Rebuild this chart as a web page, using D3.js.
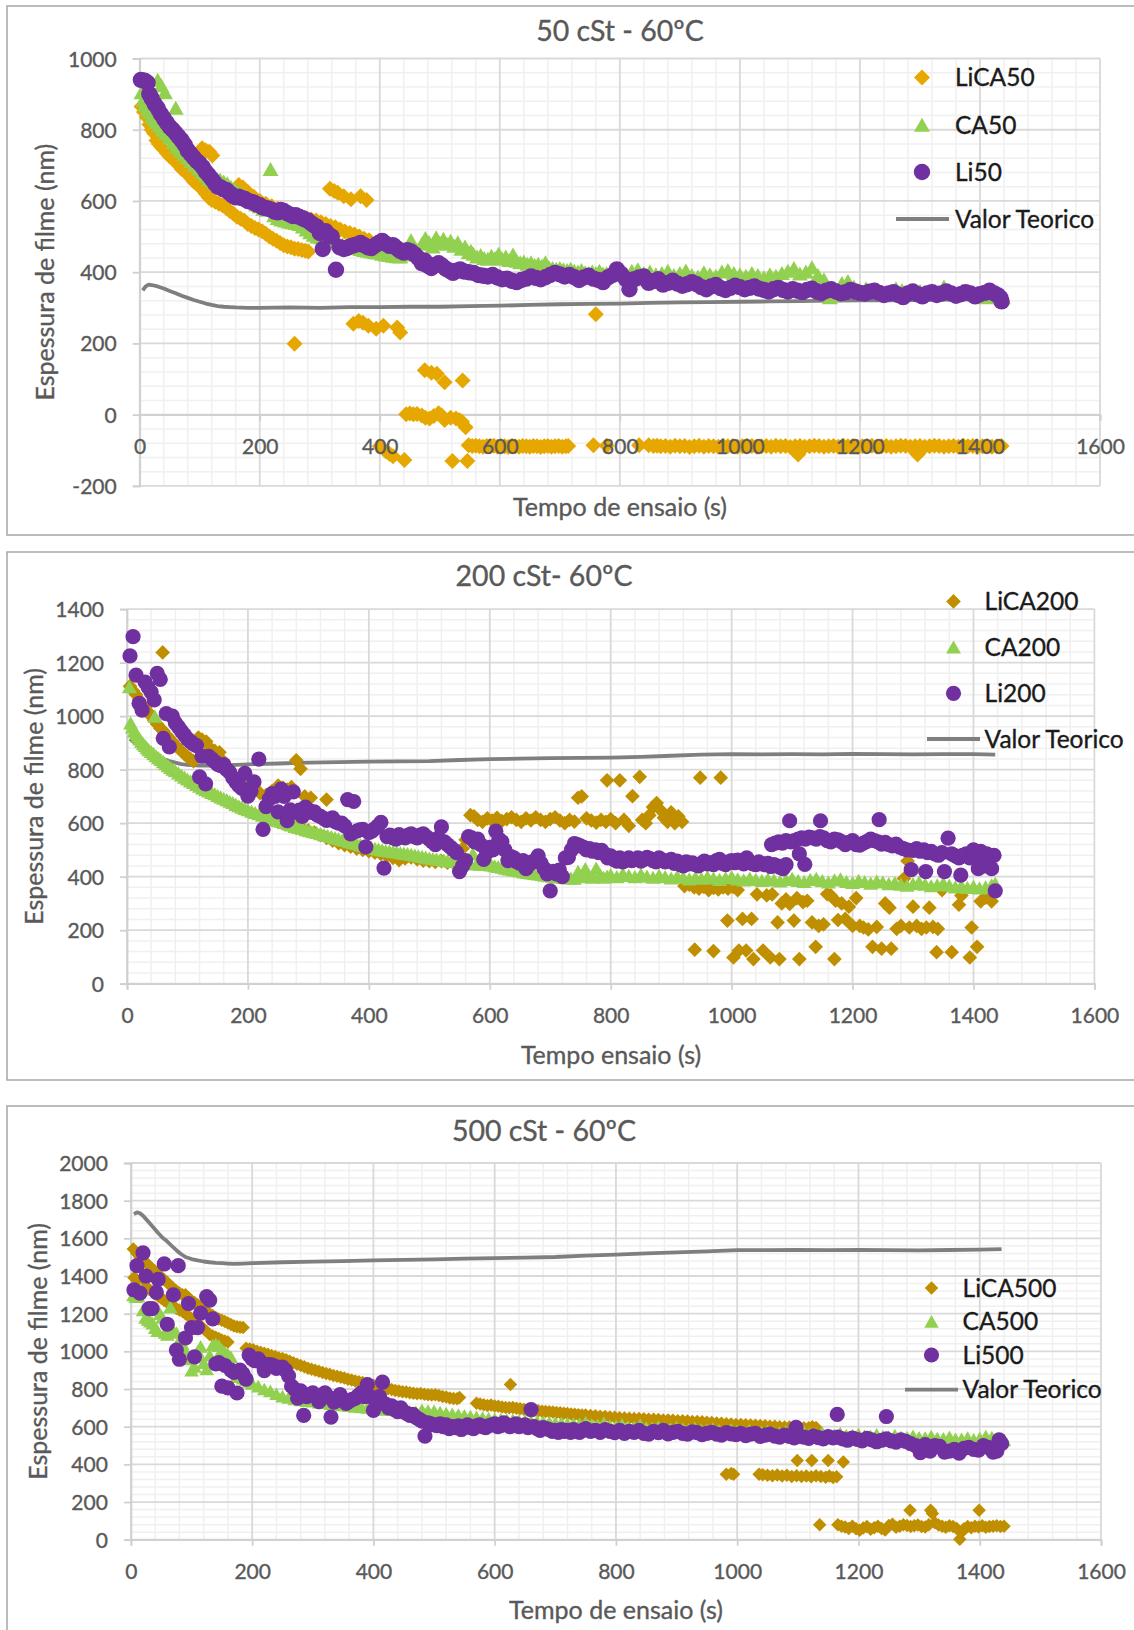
<!DOCTYPE html>
<html>
<head>
<meta charset="utf-8">
<script src="https://cdn.jsdelivr.net/npm/d3@7"></script>
<style>
  body { margin: 0; background: #fff; }
  svg { display: block; }
  text { font-family: Lato, "Open Sans", sans-serif; }
</style>
</head>
<body>
<svg id="chart" width="1134" height="1630"></svg>
<script>
// ---------- axis ticks ----------
const xTicks = [0, 200, 400, 600, 800, 1000, 1200, 1400, 1600];
const yTicks50 = [-200, 0, 200, 400, 600, 800, 1000];
const yTicks200 = [0, 200, 400, 600, 800, 1000, 1200, 1400];
const yTicks500 = [0, 200, 400, 600, 800, 1000, 1200, 1400, 1600, 1800, 2000];

const titles = ["50 cSt - 60ºC", "200 cSt- 60ºC", "500 cSt - 60ºC"];
const xTitles = ["Tempo de ensaio (s)", "Tempo ensaio (s)", "Tempo de ensaio (s)"];
const yTitle = "Espessura de filme (nm)";
const names50 = ["LiCA50", "CA50", "Li50", "Valor Teorico"];
const names200 = ["LiCA200", "CA200", "Li200", "Valor Teorico"];
const names500 = ["LiCA500", "CA500", "Li500", "Valor Teorico"];

// ---------- 50 cSt: [tempo (s), espessura (nm)] ----------
const lica50 = [
  [3,865],[7,850],[12,835],[16,815],[20,800],[24,790],[28,770],[32,760],[36,752],[40,745],[45,735],[50,725],[55,718],[60,712],[65,700],[70,690],[75,684],[80,676],[85,665],[90,655],[95,648],[100,640],
  [104,748],[110,742],[116,738],[121,728],
  [105,632],[110,620],[115,610],[120,603],[126,598],[132,592],[138,588],[144,580],[150,572],[156,565],[162,556],[168,550],[174,545],[180,535],[186,530],[192,524],[198,520],[204,515],[210,508],[216,500],[222,494],[228,488],[234,482],[240,476],[246,472],[252,470],[258,466],[264,465],[270,462],[276,460],[281,458],
  [165,645],[172,638],[180,625],[190,612],[200,600],[210,592],[220,585],[230,578],[240,572],[250,566],[260,560],[270,556],[278,552],[286,548],[294,545],[302,540],[310,535],[318,530],[326,526],[334,520],[342,514],[350,510],[358,506],[366,500],[374,494],[382,490],
  [258,199],[317,634],[324,628],[330,623],[340,613],[352,605],[368,613],[378,603],
  [356,255],[365,263],[372,258],[381,250],[394,241],[406,250],[429,245],[434,231],
  [400,-89],[410,-103],[416,-110],[422,-117],[441,-127],
  [444,1],[450,3],[456,1],[462,2],[470,-2],[476,-9],[483,-11],[490,-4],[498,4],[503,-2],[508,-15],[518,-9],[527,-11],[533,-16],[537,-20],[543,-35],
  [475,125],[486,118],[495,115],[508,91],[538,96],[521,-130],[546,-130],
  [548,-86],[554,-88],[560,-87],[566,-89],[572,-90],[578,-88],[584,-89],[590,-87],[596,-90],[602,-88],[608,-89],[614,-91],[620,-88],[626,-89],[632,-90],[638,-88],[644,-89],[650,-90],[656,-88],[662,-89],[668,-91],[674,-89],[680,-88],[686,-90],[692,-89],[698,-88],[704,-90],[710,-89],[714,-88],
  [756,-86],[760,282],[778,-87],[832,-86],[848,-86],[856,-88],[862,-87],
  [868,-89],[876,-88],[884,-90],[892,-87],[900,-89],[908,-88],[916,-91],[924,-89],[932,-87],[940,-90],[948,-88],[956,-89],[964,-90],[972,-87],[980,-89],[988,-88],[996,-90],[1004,-89],[1012,-87],[1020,-88],[1028,-90],[1036,-89],[1044,-88],[1052,-90],[1060,-87],[1068,-89],[1076,-88],[1084,-91],[1092,-89],[1097,-112],[1100,-88],[1108,-90],[1116,-89],[1124,-87],[1132,-88],[1140,-90],[1148,-89],[1156,-88],[1164,-90],[1172,-87],[1180,-89],[1188,-88],[1196,-90],[1204,-89],[1212,-88],[1220,-87],[1228,-90],[1236,-89],[1244,-88],[1252,-90],[1260,-89],[1268,-87],[1276,-88],[1284,-90],[1292,-89],[1296,-112],[1300,-88],[1308,-90],[1316,-89],[1324,-87],[1332,-88],[1340,-90],[1348,-89],[1356,-88],[1364,-90],[1372,-87],[1380,-89],[1388,-88],[1396,-90],[1404,-89],[1412,-88],[1420,-90],[1428,-89],[1436,-88]
];
const ca50 = [
  [3,905],[6,885],[9,870],[13,858],[17,850],[21,838],[25,830],[30,940],[36,925],[42,905],[60,862],[28,822],[33,812],[38,800],[44,790],[50,778],[56,765],[62,752],[68,742],[74,732],[80,722],[86,712],[92,702],[98,692],[104,682],[110,672],[116,662],[122,655],[128,648],[134,660],[140,655],[146,650],[152,640],[158,632],[164,625],[170,620],[176,612],[182,605],[188,598],[194,590],[200,585],[206,578],[212,575],[218,690],[224,560],[230,552],[236,548],[242,545],[248,542],[254,540],[260,538],[266,535],[272,528],[278,520],[284,512],[290,505],[296,500],[302,498],[308,495],[314,492],[320,490],[326,486],[332,482],[338,478],[344,475],[350,472],[356,470],[362,468],[368,465],[374,462],[380,460],[386,458],[392,456],[398,455],[404,452],[410,450],[416,448],[422,446],[428,445],[434,444],
  [440,450],[446,462],[452,490],[458,468],[464,462],[470,480],[476,496],[482,485],[488,472],[494,498],[500,482],[506,494],[512,480],[518,488],[524,474],[530,484],[536,466],[542,472],[548,456],[552,460],
  [556,452],[562,444],[568,448],[574,440],[580,438],[586,446],[592,440],[598,452],[604,438],[610,444],[616,434],[622,450],[628,432],[634,428],[640,430],[646,424],[652,428],[658,420],[664,424],[670,418],[676,428],[682,414],[688,412],[694,410],[700,412],[706,408],[712,406],[718,410],[724,404],[730,402],[736,406],[742,400],[748,398],[754,402],[760,398],[766,404],[772,396],[778,398],[786,394],[794,398],[802,394],[810,396],
  [820,404],[830,408],[840,398],[850,402],[860,394],[870,398],[880,404],[890,392],[900,398],[910,405],[920,392],[930,388],[940,400],[950,394],[960,390],[970,402],[980,406],[990,398],[1000,394],[1010,390],[1020,398],[1030,392],[1040,386],[1050,394],[1060,390],[1070,398],[1080,404],[1090,412],[1100,396],[1110,402],[1120,414],[1130,392],[1140,380],[1150,330],[1160,335],[1170,370],[1180,375],[1190,360],[1200,350],[1210,355],[1220,345],[1230,350],[1240,340],[1250,345],[1260,355],[1270,350],[1280,345],[1290,340],[1300,348],[1310,342],[1320,350],[1330,345],[1340,360],[1350,345],[1360,340],[1370,348],[1380,342],[1390,338],[1400,340],[1410,330],[1420,335],[1430,332],[1438,330]
];
const li50 = [
  [2,940],[8,938],[13,932],[16,900],[20,888],[25,872],[30,860],[35,845],[40,832],[45,820],[50,808],[55,800],[60,790],[65,780],[70,770],[75,758],[80,742],[85,732],[90,722],[95,712],[100,705],[105,695],[110,682],[115,672],[120,662],[125,650],[130,640],[135,638],[140,632],[145,630],[150,622],[155,615],[160,610],[165,612],[170,608],[175,606],[180,600],[185,598],[190,596],[195,590],[200,588],[205,582],[210,580],[215,578],[220,575],[225,570],[230,568],[235,575],[240,572],[245,566],[250,562],[255,558],[260,560],[265,556],[270,552],[275,548],[280,545],[285,538],[290,532],[295,528],[300,510],[305,465],[310,515],[315,505],[320,500],[327,407],[333,470],[340,465],[345,468],[350,472],[356,475],[362,478],[368,482],[374,476],[380,470],[386,468],[392,475],[398,482],[404,488],[410,480],[416,474],[422,476],[428,468],[434,460],[440,455],[446,462],[452,458],[458,450],[464,440],[470,425],[475,432],[480,418],[486,412],[492,420],[498,425],[504,418],[510,410],[516,404],[522,398],[528,404],[534,408],[540,402],
  [548,400],[556,398],[564,392],[572,390],[580,388],[588,392],[596,385],[604,380],[612,382],[620,376],[628,372],[636,378],[644,382],[652,388],[660,384],[668,380],[676,386],[684,392],[692,398],[700,394],[708,388],[716,392],[724,386],[732,378],[740,385],[748,390],[756,382],[764,378],[772,372],[780,385],[788,392],[795,408],[802,395],[810,380],[816,352],[824,380],[832,385],[840,388],[848,370],[856,375],[864,380],[872,365],[880,370],[888,376],[896,368],[904,362],[912,366],[920,372],[928,366],[936,358],[944,352],[952,360],[960,364],[968,355],[976,350],[984,356],[992,362],[1000,358],[1008,352],[1016,356],[1024,360],[1032,354],[1040,350],[1048,346],[1056,352],[1064,356],[1072,350],[1080,346],[1088,352],[1096,348],[1104,344],[1112,350],[1120,354],[1128,346],[1136,342],[1144,348],[1152,352],[1160,346],[1168,340],[1176,344],[1184,350],[1192,346],[1200,342],[1208,340],[1216,345],[1224,348],[1232,342],[1240,336],[1248,340],[1256,344],[1264,336],[1272,330],[1280,340],[1288,346],[1296,338],[1304,332],[1312,340],[1320,344],[1328,336],[1336,340],[1344,346],[1352,340],[1360,334],[1368,338],[1376,344],[1384,340],[1392,332],[1400,338],[1408,342],[1416,348],[1424,340],[1430,335],[1434,328],[1436,318]
];
const teorico50 = [
  [5,349],[10,360],[15,365],[20,364],[30,360],[40,354],[50,347],[60,341],[70,334],[80,328],[90,322],[100,317],[110,312],[120,308],[130,305],[140,303],[150,302],[160,301],[180,300],[200,300],[250,301],[300,300],[350,302],[400,302],[450,303],[500,303],[550,305],[600,306],[650,308],[700,310],[750,311],[800,312],[850,314],[900,315],[950,316],[1000,317],[1050,318],[1100,319],[1150,320],[1200,321],[1250,321],[1300,322],[1350,323],[1400,324],[1440,325]
];

// ---------- 200 cSt ----------
const lica200 = [
  [5,1112],[10,1095],[15,1080],[20,1062],[25,1045],[30,1030],[35,1015],[40,1000],[45,985],[50,970],[55,955],[59,1238],[60,945],[65,930],[70,918],[75,905],[80,892],[85,880],[90,870],[95,858],[100,848],[105,840],[110,832],[118,920],[124,912],[131,905],[138,880],[145,870],[153,865],[160,830],[165,800],[170,785],[175,770],[180,760],[185,750],[190,742],[195,735],[200,728],[210,720],[220,712],[230,705],[240,720],[250,740],[258,732],[265,725],[272,735],[280,835],[287,803],[294,700],[304,695],[330,688],
  [230,620],[240,612],[250,605],[260,598],[270,590],[280,585],[290,578],[300,572],[310,565],[320,555],[330,545],[340,535],[350,525],[360,518],[370,512],[380,505],[390,500],[400,495],[410,490],[420,485],[430,478],[440,470],[450,462],[460,468],[470,472],[480,465],[490,460],[500,458],[510,455],[520,458],[530,452],[540,455],[550,450],[555,505],[560,538],
  [568,630],[574,625],[580,612],[588,605],[596,618],[604,610],[612,620],[620,608],[628,615],[636,622],[644,612],[652,605],[660,618],[668,610],[676,622],[684,612],[692,605],[700,615],[708,622],[716,610],[724,600],[732,612],[740,606],[746,695],[752,700],[760,618],[768,610],[776,602],[784,612],[792,605],[794,760],[800,615],[808,600],[815,760],[822,612],[830,590],[836,701],[848,773],[852,612],[858,600],[864,630],[870,660],[876,675],[882,650],[888,620],[894,605],[900,640],[906,600],[912,625],[918,605],[948,770],[982,770],
  [922,365],[930,370],[938,360],[946,355],[954,362],[962,350],[970,358],[978,352],[986,360],[994,355],[1002,362],[1010,350],
  [939,127],[970,122],[993,236],[1003,98],[1012,124],[1018,242],[1024,124],[1033,242],[1036,92],[1042,334],[1052,124],[1058,330],[1064,98],[1067,334],[1076,229],[1079,92],[1083,300],[1090,315],[1096,298],[1103,236],[1108,320],[1112,92],[1118,305],[1125,310],[1133,229],[1139,138],[1144,216],[1152,222],[1158,335],[1164,330],[1170,92],[1172,310],[1176,238],[1182,300],[1188,242],[1194,288],[1200,216],[1206,320],[1212,216],[1218,210],[1226,203],[1233,138],[1240,212],[1248,131],[1254,300],[1261,284],[1264,131],[1273,205],[1280,216],[1285,393],[1291,459],[1294,210],[1300,288],[1306,216],[1314,205],[1322,210],[1327,284],[1333,212],[1339,118],[1341,205],[1348,350],[1364,118],[1376,295],[1380,330],[1394,98],[1397,210],[1406,138],[1412,308],[1420,322],[1430,308]
];
const ca200 = [
  [4,1110],[6,975],[9,960],[12,945],[15,935],[18,925],[21,915],[24,905],[27,897],[30,890],[33,882],[36,875],[40,868],[44,860],[46,1000],[48,852],[52,845],[56,838],[60,830],[64,822],[68,815],[72,808],[76,802],[80,796],[85,788],[90,780],[95,772],[100,765],[105,758],[110,752],[115,745],[120,738],[125,732],[130,726],[135,720],[140,715],[145,710],[150,704],[155,698],[160,693],[165,688],[170,682],[175,677],[180,670],[185,665],[190,660],[195,655],[200,650],[206,645],[212,640],[218,635],[224,630],[230,626],[236,622],[242,617],[248,612],[254,607],[260,603],[266,598],[272,593],[278,588],[284,584],[290,580],[296,576],[302,572],[308,568],[314,565],[320,561],[326,557],[332,554],[338,550],[344,546],[350,542],[356,538],[362,535],[368,531],[374,527],[380,524],[386,520],[392,516],[398,512],[404,509],[410,506],[416,503],[422,500],[428,498],[434,496],[440,494],[446,492],[452,490],[458,488],[464,486],[470,484],[476,481],[482,478],[488,476],[494,473],[500,470],[506,468],[512,466],[518,464],[524,462],[530,460],[536,458],[542,457],[548,455],[554,453],[560,452],[566,450],[572,486],[578,448],[584,447],[590,446],[596,470],[602,444],[608,441],[614,438],[620,435],[626,432],[632,429],[638,426],[644,424],[650,421],[656,418],[662,416],[668,414],[674,412],[680,410],[686,408],[692,406],[698,404],[704,402],[710,400],[716,399],[722,397],[728,396],[734,395],[740,394],[746,420],[752,400],[758,430],[764,405],[770,398],[776,432],[782,410],[788,398],[794,402],[800,408],[810,400],[820,412],[830,405],[840,400],[850,410],[860,402],[870,398],[880,406],[890,400],[900,395],[910,402],[920,398],[930,392],[940,398],[950,394],[960,400],[970,395],[980,390],[990,396],[1000,400],[1010,392],[1020,388],[1030,395],[1040,390],[1050,386],[1060,392],[1070,388],[1080,384],[1090,390],[1100,394],[1110,386],[1120,382],[1130,390],[1140,394],[1150,385],[1160,380],[1170,388],[1180,392],[1190,382],[1200,378],[1210,386],[1220,382],[1230,376],[1240,384],[1250,380],[1260,374],[1270,378],[1280,372],[1290,368],[1300,374],[1310,380],[1320,372],[1330,366],[1340,370],[1350,376],[1360,368],[1370,362],[1380,366],[1390,360],[1400,364],[1410,358],[1420,362],[1430,370],[1436,375]
];
const li200 = [
  [5,1225],[10,1297],[15,1153],[20,1048],[25,1022],[30,1127],[35,1107],[40,1090],[45,1061],[50,1160],[55,1137],[60,917],[65,1009],[70,885],[75,1000],[80,975],[85,960],[90,944],[95,930],[100,915],[105,905],[110,895],[115,890],[120,773],[124,850],[130,747],[135,850],[140,840],[145,830],[150,820],[155,815],[160,819],[165,800],[170,790],[175,770],[180,754],[185,740],[190,730],[195,786],[200,701],[205,720],[210,754],[218,839],[225,577],[230,662],[235,690],[240,710],[245,700],[250,642],[255,727],[260,700],[265,609],[270,650],[275,717],[280,640],[285,649],[290,625],[295,660],[300,650],[305,640],[310,642],[315,630],[320,625],[325,618],[330,610],[335,615],[340,620],[345,605],[350,600],[355,600],[360,590],[365,688],[370,560],[375,681],[380,570],[385,575],[390,577],[395,511],[400,565],[405,570],[410,580],[415,590],[420,603],[425,432],[430,550],[435,555],[440,545],[445,540],[450,557],[455,550],[460,545],[465,555],[470,560],[475,550],[480,545],[485,555],[490,560],[495,550],[500,540],[505,530],[510,520],[515,545],[520,586],[525,530],[530,520],[535,510],[540,500],[545,490],[550,419],[555,440],[560,460],[565,550],[570,545],[575,530],[580,540],[585,520],[590,465],[595,490],[600,510],[605,500],[610,570],[615,540],[620,531],[625,500],[630,460],[635,475],[640,470],[645,455],[650,450],[655,460],[660,430],[665,445],[670,455],[675,460],[680,478],[685,450],[690,430],[695,410],[700,347],[705,420],[710,410],[715,425],[720,400],[725,470],[730,472],[735,500],[740,524],[745,520],[750,515],[755,510],[760,500],[765,505],[770,495],[775,500],[780,490],[785,498],[790,485],[795,470],[800,478],[805,465],[810,458],[815,470],[820,455],[825,462],[830,470],[835,460],[840,465],[845,470],[850,458],[855,465],[860,472],[865,468],[870,460],[875,455],[880,470],[885,462],[890,455],[895,460],[900,465],[905,450],[910,458],[915,445],[920,440],[925,455],[930,448],[935,452],[940,445],[945,440],[950,450],[955,458],[960,448],[965,452],[970,445],[975,460],[980,465],[985,450],[990,445],[995,455],[1000,460],[1005,452],[1010,462],[1015,455],[1020,448],[1025,470],[1030,455],[1035,448],[1040,445],[1045,455],[1050,448],[1055,445],[1060,450],[1065,438],[1070,445],[1075,440],[1080,435],[1085,430],[1090,445],
  [1066,520],[1072,525],[1078,530],[1084,525],[1090,535],[1096,609],[1098,530],[1104,535],[1110,540],[1112,485],[1116,545],[1121,446],[1122,540],[1128,548],[1134,545],[1140,540],[1147,609],[1146,550],[1152,545],[1158,535],[1164,530],[1170,540],[1176,538],[1182,530],[1188,520],[1194,528],[1200,535],[1206,520],[1212,518],[1218,525],[1224,532],[1230,540],[1236,535],[1244,613],[1242,530],[1248,522],[1254,528],[1260,520],[1266,515],[1272,522],[1278,510],[1284,505],[1290,500],[1297,426],[1300,498],[1306,505],[1312,495],[1318,500],[1321,419],[1324,490],[1330,495],[1336,485],[1342,480],[1348,490],[1352,419],[1358,544],[1364,485],[1370,478],[1376,470],[1379,406],[1382,480],[1388,485],[1394,470],[1400,500],[1404,480],[1408,430],[1412,495],[1418,440],[1422,485],[1426,470],[1430,430],[1434,480],[1436,347]
];
const teorico200 = [
  [5,915],[10,905],[20,890],[30,875],[40,862],[50,850],[60,840],[70,832],[80,826],[90,821],[100,818],[120,815],[140,815],[160,816],[180,818],[200,820],[250,823],[300,826],[350,828],[400,830],[450,831],[500,832],[550,836],[600,839],[650,841],[700,843],[750,844],[800,845],[850,848],[900,852],[950,856],[1000,858],[1050,857],[1100,858],[1150,857],[1200,859],[1250,858],[1300,857],[1350,858],[1400,858],[1436,856]
];

// ---------- 500 cSt ----------
const lica500 = [
  [4,1543],[10,1520],[15,1500],[20,1485],[25,1470],[30,1455],[35,1440],[40,1425],[45,1410],[50,1395],[55,1380],[60,1365],[65,1350],[70,1335],[75,1320],[80,1310],[85,1300],[90,1300],[95,1285],[100,1270],[105,1260],[110,1248],[115,1235],[120,1222],[125,1210],[130,1199],[135,1190],[140,1180],[145,1172],[150,1165],[155,1158],[160,1150],[165,1142],[170,1135],[175,1130],[180,1128],[185,1126],
  [5,1391],[10,1380],[15,1368],[20,1355],[25,1343],[30,1330],[35,1318],[40,1305],[45,1293],[50,1282],[55,1270],[60,1260],[65,1248],[70,1238],[75,1228],[80,1220],[85,1212],[90,1200],[95,1188],[100,1175],[105,1162],[110,1150],[115,1135],[120,1120],[125,1105],[130,1090],[135,1082],[140,1075],[145,1068],[150,1060],[155,1055],[160,1050],
  [190,1016],[196,1012],[202,1008],[208,1000],[214,995],[220,990],[226,985],[232,978],[238,972],[244,965],[250,962],[256,955],[262,948],[268,940],[274,932],[280,925],[286,918],[292,910],[298,905],[304,900],[310,895],[316,888],[322,882],[328,878],[334,872],[340,868],[346,862],[352,858],[358,852],[364,848],[370,843],[376,838],[382,834],[388,830],[394,826],[400,820],[406,815],[412,810],[418,806],[424,802],[430,797],[436,792],[442,790],[448,786],[454,784],[460,780],[466,778],[472,775],[478,776],[484,772],[490,770],[496,768],[502,770],[508,765],[514,760],[520,758],[526,752],[532,750],[538,748],[542,755],
  [570,724],[576,720],[582,716],[588,712],[594,715],[600,710],[606,708],[612,705],[618,702],[624,700],[626,824],[630,702],[636,698],[642,695],[648,692],[654,690],[660,688],[666,686],[672,684],[678,682],[684,680],[690,679],[696,678],[702,676],[708,674],[714,672],[720,670],[726,668],[732,666],[738,664],[744,662],[750,662],[758,660],[766,658],[774,655],[782,654],[790,652],[798,650],[806,648],[814,646],[822,645],[830,644],[838,643],[846,642],[854,640],[862,639],[870,638],[878,636],[886,635],[894,634],[902,632],[910,631],[918,630],[926,628],[934,627],[942,626],[950,624],[958,622],[966,620],[974,618],[982,616],[990,614],[998,612],[1006,611],[1014,610],[1022,609],[1030,608],[1038,606],[1046,605],[1054,603],[1062,602],[1070,600],[1078,599],[1086,598],[1094,597],[1102,596],[1110,595],[1118,594],[1124,600],[1130,596],
  [1099,420],[1123,420],[1150,420],[1175,413],[982,347],[990,352],[994,347],[1036,347],[1042,345],[1050,342],[1058,340],[1066,344],[1074,338],[1082,342],[1090,336],[1098,340],[1106,335],[1114,338],[1122,334],[1130,340],[1138,336],[1146,332],[1152,338],[1158,330],[1164,334],[1136,80],
  [1166,80],[1172,72],[1178,68],[1184,60],[1190,72],[1196,58],[1202,50],[1208,62],[1214,70],[1220,55],[1226,64],[1232,72],[1238,60],[1244,52],[1250,76],[1256,82],[1262,66],[1268,72],[1274,80],[1280,76],[1285,157],[1286,70],[1292,74],[1298,78],[1304,70],[1310,68],[1316,80],[1319,157],[1322,139],[1326,90],[1332,78],[1338,72],[1344,66],[1350,74],[1356,70],[1362,60],[1367,2],[1370,40],[1374,58],[1380,70],[1386,64],[1392,72],[1399,157],[1398,68],[1404,74],[1410,66],[1416,70],[1422,72],[1428,74],[1434,70],[1440,72]
];
const ca500 = [
  [4,1300],[8,1290],[12,1295],[16,1330],[20,1220],[24,1180],[28,1170],[32,1160],[36,1150],[40,1126],[44,1110],[48,1200],[52,1180],[56,1100],[60,1090],[65,1236],[70,1110],[75,1100],[80,1060],[85,1040],[90,1000],[95,960],[100,900],[105,920],[110,1000],[115,1026],[120,940],[125,907],[130,980],[135,1035],[140,1040],[145,1030],[150,1010],[155,998],[160,985],[165,971],[170,900],[175,870],[180,865],[185,858],[190,850],[195,840],[200,830],[210,815],[220,800],[230,790],[240,775],[250,762],[260,755],[270,748],[280,742],[290,738],[300,735],[310,730],[320,726],[330,722],[340,718],[350,715],[360,712],[370,708],[380,705],[390,702],[400,698],[410,695],[420,692],[430,690],[440,688],[450,685],[460,682],[470,680],[480,690],[490,686],[500,684],[510,678],[520,672],[530,668],[540,664],[550,660],[560,656],[570,652],[580,648],[590,645],[600,642],[610,640],[620,638],[630,636],[640,634],[650,632],[660,630],[670,628],[680,626],[690,624],[700,622],[710,620],[720,618],[730,616],[740,615],[750,625],[760,612],[770,610],[780,620],[790,606],[800,604],[810,612],[820,600],[830,598],[840,610],[850,595],[860,594],[870,600],[880,592],[890,590],[900,598],[910,588],[920,586],[930,594],[940,584],[950,582],[960,590],[970,580],[980,578],[990,586],[1000,576],[1010,575],[1020,582],[1030,573],[1040,572],[1050,578],[1060,570],[1070,568],[1080,575],[1090,566],[1100,565],[1110,572],[1120,563],[1130,562],[1140,570],[1150,560],[1160,558],[1170,566],[1180,556],[1190,555],[1200,562],[1210,553],[1220,552],[1230,560],[1240,550],[1250,548],[1260,556],[1270,546],[1280,545],[1290,552],[1300,543],[1310,542],[1320,550],[1330,540],[1340,538],[1350,546],[1360,536],[1370,535],[1380,542],[1390,533],[1400,540],[1410,550],[1420,545],[1430,538],[1440,530]
];
const li500 = [
  [5,1327],[10,1455],[15,1309],[20,1523],[25,1400],[30,1227],[35,1227],[42,1313],[45,1382],[55,1464],[60,1144],[70,1300],[75,1007],[80,958],[78,1455],[90,1071],[95,1254],[100,1126],[105,971],[110,1126],[115,1203],[125,1291],[130,1272],[135,1172],[140,934],[145,940],[150,815],[155,925],[160,806],[165,900],[170,888],[175,779],[180,900],[185,880],[190,852],[195,980],[200,960],[205,950],[210,960],[215,940],[220,898],[225,930],[230,930],[235,925],[240,910],[245,915],[250,916],[255,900],[260,870],[265,815],[270,800],[275,751],[280,790],[285,660],[290,760],[295,770],[300,780],[305,760],[310,733],[315,750],[320,780],[325,760],[330,651],[335,730],[340,740],[345,770],[350,745],[355,724],[360,735],[365,745],[370,750],[375,765],[380,780],[385,760],[390,824],[395,760],[400,687],[405,740],[410,760],[415,837],[420,720],[425,700],[430,710],[435,690],[440,680],[445,700],[450,680],[455,670],[460,660],[465,665],[470,650],[475,640],[480,630],[485,550],[490,620],[495,615],[500,610],[505,605],[510,615],[515,600],[520,610],[525,590],[530,600],[535,595],[540,605],[545,585],[550,600],[555,610],[560,595],[565,590],[570,605],[575,610],[580,600],[585,595],[590,605],[595,610],[600,615],[605,600],[610,605],[615,620],[620,610],[625,600],[630,605],[635,615],[640,600],[645,605],[650,610],[655,595],[660,691],[665,600],[670,590],[675,580],[680,595],[685,590],[690,585],[695,575],[700,580],[705,570],[710,585],[715,575],[720,580],[725,570],[730,585],[735,575],[740,570],[745,580],[750,590],[758,575],[766,580],[774,570],[782,585],[790,575],[798,568],[806,580],[814,565],[822,575],[830,570],[838,580],[846,565],[854,560],[862,575],[870,568],[878,580],[886,562],[894,570],[902,575],[910,565],[918,560],[926,572],[934,568],[942,558],[950,565],[958,570],[966,560],[974,555],[982,568],[990,562],[998,558],[1006,565],[1014,552],[1022,560],[1030,565],[1038,548],[1046,555],[1054,560],[1062,550],[1070,545],[1078,555],[1086,548],[1094,540],[1097,596],[1102,550],[1110,545],[1118,538],[1126,550],[1134,542],[1142,535],[1150,548],[1158,540],[1165,665],[1166,545],[1174,535],[1182,528],[1190,540],[1198,532],[1206,525],[1214,538],[1222,530],[1230,520],[1238,528],[1246,654],[1246,535],[1254,525],[1262,518],[1270,530],[1278,522],[1286,510],[1294,500],[1302,462],[1310,505],[1318,470],[1326,500],[1334,495],[1342,465],[1350,470],[1358,480],[1366,460],[1374,485],[1382,490],[1390,480],[1398,475],[1406,500],[1414,490],[1422,465],[1428,470],[1432,530],[1436,510]
];
const teorico500 = [
  [5,1729],[10,1738],[15,1733],[20,1720],[25,1702],[30,1684],[35,1665],[40,1647],[45,1628],[50,1611],[55,1596],[60,1583],[68,1558],[75,1537],[82,1518],[90,1501],[100,1490],[110,1483],[120,1477],[130,1473],[140,1470],[150,1468],[160,1466],[170,1464],[185,1466],[200,1468],[250,1473],[300,1476],[350,1479],[400,1483],[450,1486],[500,1488],[550,1492],[600,1495],[650,1498],[700,1501],[750,1508],[800,1514],[850,1520],[900,1525],[950,1531],[1000,1537],[1050,1537],[1100,1538],[1150,1537],[1200,1538],[1250,1537],[1300,1536],[1350,1538],[1400,1540],[1436,1543]
];

// ---------- styling ----------
const GOLD_LIGHT = "#E6A700";
const GOLD_DARK = "#BF8F00";
const GREEN = "#92D050";
const PURPLE = "#7030A0";
const LINE_GREY = "#7F7F7F";
const TEXT_GREY = "#595959";

// Excel-style markers, sized by their bounding width in px
const diamondSym = { draw(ctx, size) { const h = Math.sqrt(size / 2);
  ctx.moveTo(0, -h); ctx.lineTo(h, 0); ctx.lineTo(0, h); ctx.lineTo(-h, 0); ctx.closePath(); } };
const triangleSym = { draw(ctx, size) { const w = Math.sqrt(size * 2 / 0.875); const ht = w * 0.875;
  ctx.moveTo(0, -ht / 2); ctx.lineTo(w / 2, ht / 2); ctx.lineTo(-w / 2, ht / 2); ctx.closePath(); } };
const diamondOf = w => d3.symbol(diamondSym, w * w / 2)();
const triangleOf = w => d3.symbol(triangleSym, w * w * 0.875 / 2)();
const circleOf = w => d3.symbol(d3.symbolCircle, Math.PI * w * w / 4)();

// Calibri-like text: slightly thickened glyphs
function styleText(sel, size, color) {
  sel.attr("fill", color).attr("stroke", color).attr("stroke-width", 0.35)
    .style("font-size", size + "px").style("font-family", "Lato, 'Open Sans', sans-serif");
}

const panels = [
  {
    title: titles[0], xTitle: xTitles[0], names: names50,
    box: { top: 6, bottom: 535 },
    plot: { left: 139.7, right: 1100, top: 58.5, bottom: 485.9 },
    yDomain: [-200, 1000], yTicks: yTicks50, xAxisValue: 0,
    titleY: 31, titleX: 620, xTitleX: 620, xTitleY: 507, yTitleX: 45,
    legend: { marker: 922, text: 955, lineX: [896, 949], rows: [77.5, 124.7, 172, 219] },
    gold: GOLD_LIGHT, marker: { diamond: 16, triangle: 16, circle: 16.4 },
    data: [lica50, ca50, li50, teorico50]
  },
  {
    title: titles[1], xTitle: xTitles[1], names: names200,
    box: { top: 552, bottom: 1080 },
    plot: { left: 127, right: 1094.4, top: 609.1, bottom: 983.7 },
    yDomain: [0, 1400], yTicks: yTicks200, xAxisValue: 0,
    titleY: 576, titleX: 544, xTitleX: 611, xTitleY: 1055, yTitleX: 34.4,
    legend: { marker: 953.5, text: 984.6, lineX: [927, 980], rows: [601.4, 647, 693.3, 739] },
    gold: GOLD_DARK, marker: { diamond: 14.7, triangle: 15, circle: 15.2 },
    data: [lica200, ca200, li200, teorico200]
  },
  {
    title: titles[2], xTitle: xTitles[2], names: names500,
    box: { top: 1106, bottom: 1660 },
    plot: { left: 130.9, right: 1101, top: 1163, bottom: 1539.7 },
    yDomain: [0, 2000], yTicks: yTicks500, xAxisValue: 0,
    titleY: 1131, titleX: 544, xTitleX: 616, xTitleY: 1610, yTitleX: 37.5,
    legend: { marker: 931.5, text: 962.6, lineX: [905, 958], rows: [1288, 1321.4, 1355, 1389.6] },
    gold: GOLD_DARK, marker: { diamond: 13.5, triangle: 14.5, circle: 15.2 },
    data: [lica500, ca500, li500, teorico500]
  }
];

const svg = d3.select("#chart");
const plainNumber = d => String(d).replace("\u2212", "-");

panels.forEach(p => {
  const g = svg.append("g");
  const x = d3.scaleLinear().domain([0, 1600]).range([p.plot.left, p.plot.right]);
  const y = d3.scaleLinear().domain(p.yDomain).range([p.plot.bottom, p.plot.top]);

  // chart frame
  g.append("rect")
    .attr("x", 7).attr("y", p.box.top)
    .attr("width", 1150).attr("height", p.box.bottom - p.box.top)
    .attr("fill", "#fff").attr("stroke", "#A6A6A6").attr("stroke-width", 1.5);

  // minor gridlines
  const minorX = d3.range(0, 1601, 40).filter(v => v % 200 !== 0);
  const minorY = d3.range(p.yDomain[0], p.yDomain[1] + 1, 40).filter(v => v % 200 !== 0);
  const grid = g.append("g");
  grid.selectAll(".mx").data(minorX).join("line")
    .attr("x1", d => x(d)).attr("x2", d => x(d)).attr("y1", p.plot.top).attr("y2", p.plot.bottom)
    .attr("stroke", "#F0F0F0").attr("stroke-width", 1.5);
  grid.selectAll(".my").data(minorY).join("line")
    .attr("y1", d => y(d)).attr("y2", d => y(d)).attr("x1", p.plot.left).attr("x2", p.plot.right)
    .attr("stroke", "#F0F0F0").attr("stroke-width", 1.5);
  // major gridlines
  grid.selectAll(".gx").data(xTicks).join("line")
    .attr("x1", d => x(d)).attr("x2", d => x(d)).attr("y1", p.plot.top).attr("y2", p.plot.bottom)
    .attr("stroke", "#D9D9D9").attr("stroke-width", 1.8);
  grid.selectAll(".gy").data(p.yTicks).join("line")
    .attr("y1", d => y(d)).attr("y2", d => y(d)).attr("x1", p.plot.left).attr("x2", p.plot.right)
    .attr("stroke", "#D9D9D9").attr("stroke-width", 1.8);

  // axis lines and tick marks (beneath the markers)
  const xAxisY = y(p.xAxisValue);
  const yAxisLines = g.append("g").attr("transform", `translate(${p.plot.left},0)`)
    .call(d3.axisLeft(y).tickValues(p.yTicks).tickSize(7).tickFormat(""));
  const xAxisLines = g.append("g").attr("transform", `translate(0,${xAxisY})`)
    .call(d3.axisBottom(x).tickValues(xTicks).tickSize(6).tickFormat(""));
  [yAxisLines, xAxisLines].forEach(a => {
    a.selectAll("path, line").attr("stroke", "#D0D0D0").attr("stroke-width", 1.8);
  });

  // theoretical curve
  const line = d3.line().x(d => x(d[0])).y(d => y(d[1]));
  g.append("path").datum(p.data[3]).attr("d", line)
    .attr("fill", "none").attr("stroke", LINE_GREY).attr("stroke-width", 3.8)
    .attr("stroke-linejoin", "round");

  // scatter series
  const shapes = [diamondOf(p.marker.diamond), triangleOf(p.marker.triangle), circleOf(p.marker.circle)];
  const fills = [p.gold, GREEN, PURPLE];
  shapes.forEach((shape, i) => {
    g.append("g").selectAll("path").data(p.data[i]).join("path")
      .attr("d", shape)
      .attr("transform", d => `translate(${x(d[0])},${y(d[1])})`)
      .attr("fill", fills[i]);
  });

  // tick labels on top
  const yAxisText = g.append("g").attr("transform", `translate(${p.plot.left},0)`)
    .call(d3.axisLeft(y).tickValues(p.yTicks).tickSize(0).tickPadding(23).tickFormat(plainNumber));
  const xAxisText = g.append("g").attr("transform", `translate(0,${xAxisY})`)
    .call(d3.axisBottom(x).tickValues(xTicks).tickSize(0).tickFormat(plainNumber));
  [yAxisText, xAxisText].forEach(a => {
    a.select(".domain").remove();
    styleText(a.selectAll("text"), 21, TEXT_GREY);
  });
  yAxisText.selectAll("text").attr("dy", "0.36em");
  xAxisText.selectAll("text").attr("y", 31.5).attr("dy", "0.36em");

  // titles
  styleText(g.append("text").attr("x", p.titleX).attr("y", p.titleY).attr("dy", "0.36em")
    .attr("text-anchor", "middle").text(p.title), 28.5, TEXT_GREY);
  styleText(g.append("text").attr("x", p.xTitleX).attr("y", p.xTitleY).attr("dy", "0.36em")
    .attr("text-anchor", "middle").text(p.xTitle), 25, TEXT_GREY);
  const yMid = (p.plot.top + p.plot.bottom) / 2;
  styleText(g.append("text").attr("transform", `translate(${p.yTitleX},${yMid}) rotate(-90)`)
    .attr("dy", "0.36em").attr("text-anchor", "middle").text(yTitle), 25, TEXT_GREY);

  // legend
  const lg = g.append("g");
  p.names.forEach((name, i) => {
    const ry = p.legend.rows[i];
    if (i < 3) {
      lg.append("path").attr("d", shapes[i])
        .attr("transform", `translate(${p.legend.marker},${ry})`).attr("fill", fills[i]);
    } else {
      lg.append("line").attr("x1", p.legend.lineX[0]).attr("x2", p.legend.lineX[1])
        .attr("y1", ry).attr("y2", ry).attr("stroke", LINE_GREY).attr("stroke-width", 3.8);
    }
    styleText(lg.append("text").attr("x", p.legend.text).attr("y", ry).attr("dy", "0.36em")
      .text(name), 24.5, "#1A1A1A");
  });
});
</script>
</body>
</html>
